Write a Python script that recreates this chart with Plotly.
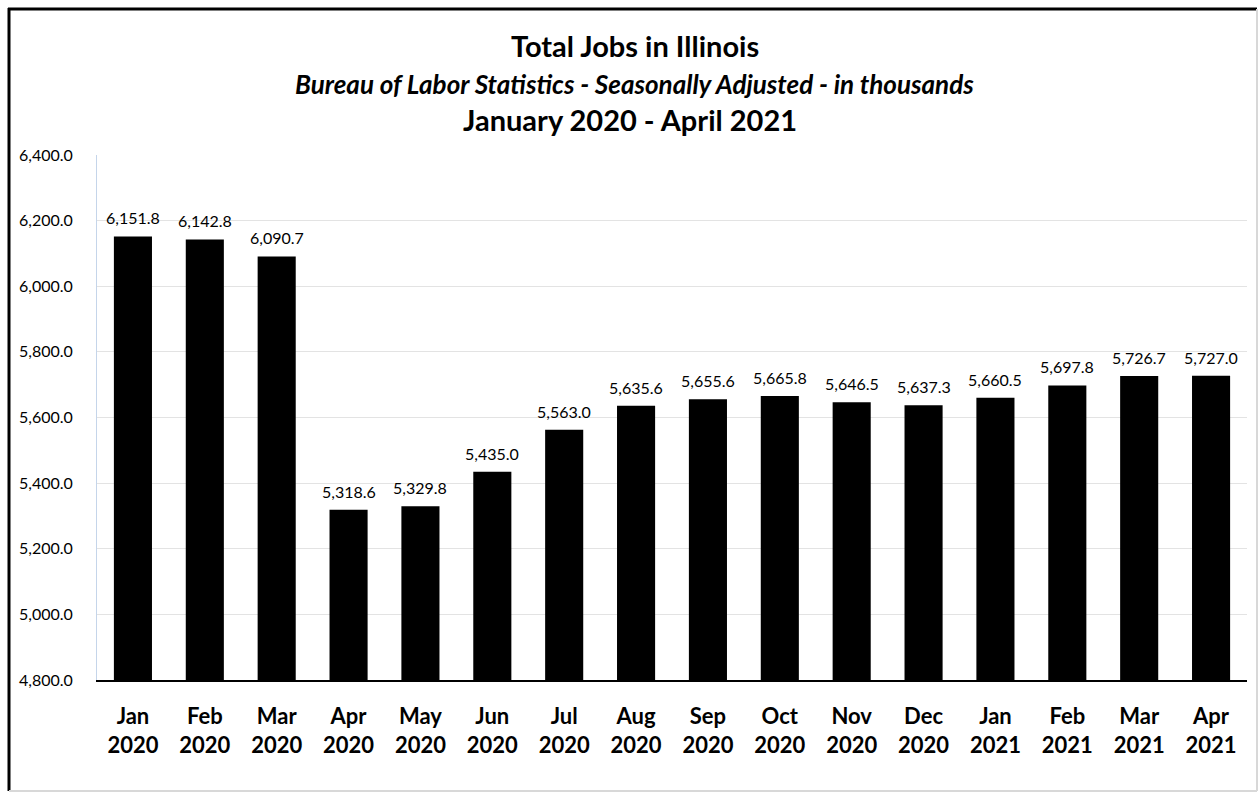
import plotly.graph_objects as go

months = ["Jan", "Feb", "Mar", "Apr", "May", "Jun", "Jul", "Aug", "Sep", "Oct", "Nov", "Dec",
          "Jan", "Feb", "Mar", "Apr"]
years = ["2020"] * 12 + ["2021"] * 4
jobs = [6151.8, 6142.8, 6090.7, 5318.6, 5329.8, 5435.0, 5563.0, 5635.6, 5655.6, 5665.8,
        5646.5, 5637.3, 5660.5, 5697.8, 5726.7, 5727.0]
y_ticks = [4800, 5000, 5200, 5400, 5600, 5800, 6000, 6200, 6400]

cats = [f"{m}<br>{y}" for m, y in zip(months, years)]
FONT = "Lato, Calibri, Arial, sans-serif"

fig = go.Figure(go.Bar(
    x=list(range(len(cats))), y=jobs,
    marker=dict(color="black", line=dict(width=0)),
    width=0.53,
    cliponaxis=False,
    hoverinfo="x+y",
))

L, R, T, B = 97, 12, 155, 113
W, H = 1259, 793
pw, ph = W - L - R, H - T - B

def px(x):
    return (x - L) / pw

def py(y):
    return (H - B - y) / ph

annotations = [
    dict(x=i, y=v, xref="x", yref="y", text=f"{v:,.1f}", showarrow=False,
         yanchor="bottom", xanchor="center", yshift=7,
         font=dict(size=16, family=FONT, color="black"))
    for i, v in enumerate(jobs)
]
annotations += [
    dict(text="<b>Total Jobs in Illinois</b>", x=px(635), y=py(45), xref="paper", yref="paper",
         showarrow=False, font=dict(size=29, family=FONT), xanchor="center", yanchor="middle"),
    dict(text="<b><i>Bureau of Labor Statistics - Seasonally Adjusted - in thousands</i></b>",
         x=px(634), y=py(84), xref="paper", yref="paper",
         showarrow=False, font=dict(size=26, family=FONT), xanchor="center", yanchor="middle"),
    dict(text="<b>January 2020 - April 2021</b>", x=px(630), y=py(119), xref="paper", yref="paper",
         showarrow=False, font=dict(size=29, family=FONT), xanchor="center", yanchor="middle"),
]

fig.update_layout(
    width=W, height=H,
    margin=dict(l=L, r=R, t=T, b=B),
    paper_bgcolor="white", plot_bgcolor="white",
    showlegend=False,
    font=dict(family=FONT, color="black"),
    xaxis=dict(
        tickmode="array", tickvals=list(range(len(cats))),
        ticktext=[f"<b>{c}</b>" for c in cats],
        tickfont=dict(size=22, family=FONT, color="black"),
        range=[-0.5, len(cats) - 0.5],
        showline=True, linecolor="black", linewidth=2,
        ticks="", showgrid=False, ticklabelstandoff=16,
    ),
    yaxis=dict(
        range=[4800, 6400], tickvals=y_ticks,
        ticktext=[f"{v:,.1f}" for v in y_ticks],
        tickfont=dict(size=16, family=FONT, color="black"),
        showgrid=True, gridcolor="#e3e3e3", gridwidth=1,
        showline=True, linecolor="#c5d5ea", linewidth=1,
        ticks="", zeroline=False, ticklabelstandoff=20,
    ),
    annotations=annotations,
    shapes=[
        dict(type="line", xref="paper", yref="paper", x0=px(9), x1=px(9), y0=py(8), y1=py(791),
             line=dict(color="black", width=3)),
        dict(type="line", xref="paper", yref="paper", x0=px(8), x1=px(1257), y0=py(9), y1=py(9),
             line=dict(color="black", width=3)),
        dict(type="line", xref="paper", yref="paper", x0=px(1257), x1=px(1257), y0=py(9), y1=py(791),
             line=dict(color="#d8d8d8", width=2)),
        dict(type="line", xref="paper", yref="paper", x0=px(9), x1=px(1257), y0=py(791), y1=py(791),
             line=dict(color="#d8d8d8", width=2)),
    ],
)

fig.write_html("out.html")
